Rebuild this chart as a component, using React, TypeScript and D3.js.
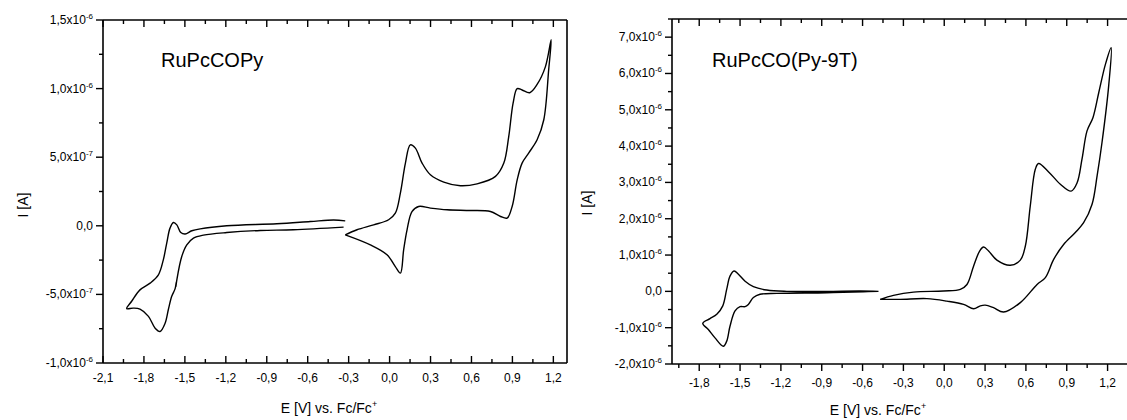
import React from 'react';
import * as d3 from 'd3';

// potentials in V vs Fc/Fc+, currents in A
const copyCathodicE = [-0.337, -0.704, -0.948, -1.193, -1.364, -1.437, -1.486, -1.523, -1.559, -1.566, -1.563, -1.572, -1.597, -1.621, -1.645, -1.682, -1.718, -1.767, -1.829, -1.878, -1.926,
  -1.89, -1.829, -1.755, -1.694, -1.658, -1.633, -1.609, -1.584, -1.559, -1.53, -1.498, -1.449, -1.388, -1.193, -0.826, -0.581, -0.41, -0.325];
const copyCathodicI = [-0.1, -0.29, -0.34, -0.49, -0.68, -0.9, -1.39, -2.24, -3.94, -4.45, -4.1, -4.6, -5.15, -6.1, -7.1, -7.7, -7.46, -6.6, -6.08, -6.0, -6.03,
  -5.5, -4.67, -4.18, -3.57, -2.48, -1.26, -0.17, 0.24, 0.07, -0.49, -0.6, -0.36, -0.22, 0.0, 0.15, 0.31, 0.42, 0.36];

const copyAnodicE = [-0.325, -0.239, -0.117, -0.007, 0.042, 0.079, 0.116, 0.152, 0.189, 0.238, 0.299, 0.397, 0.519, 0.641, 0.776, 0.837, 0.873, 0.905, 0.935, 0.971, 1.027, 1.081, 1.142, 1.184,
  1.166, 1.13, 1.081, 1.019, 0.971, 0.935, 0.898, 0.861, 0.813, 0.739, 0.593, 0.421, 0.299, 0.213, 0.164, 0.128, 0.103, 0.079, 0.042, -0.019, -0.141, -0.325];
const copyAnodicI = [-0.66, -0.29, 0.07, 0.44, 0.92, 2.38, 4.57, 5.9, 5.66, 4.57, 3.72, 3.19, 2.92, 3.06, 3.6, 4.57, 6.5, 8.94, 10.0, 9.9, 9.7, 10.3, 11.6, 13.56,
  11.4, 7.73, 6.27, 5.3, 4.57, 3.35, 1.41, 0.56, 0.68, 1.04, 1.12, 1.17, 1.29, 1.41, 1.04, -0.29, -1.75, -3.45, -2.97, -2.11, -1.39, -0.66];

const py9tCathodicE = [-0.483, -0.618, -0.863, -1.157, -1.304, -1.402, -1.463, -1.512, -1.544, -1.574, -1.598, -1.627, -1.671, -1.721, -1.774,
  -1.733, -1.684, -1.623, -1.598, -1.574, -1.537, -1.5, -1.463, -1.439, -1.402, -1.353, -1.23, -0.863, -0.593, -0.483];
const py9tCathodicI = [0.0, 0.01, 0.0, 0.0, 0.036, 0.13, 0.28, 0.47, 0.56, 0.42, 0.06, -0.4, -0.63, -0.75, -0.88,
  -1.05, -1.28, -1.51, -1.37, -0.96, -0.54, -0.42, -0.42, -0.36, -0.17, -0.08, -0.055, -0.036, -0.01, 0.0];

const py9tAnodicE = [-0.471, -0.373, -0.226, -0.005, 0.118, 0.167, 0.216, 0.26, 0.289, 0.326, 0.387, 0.485, 0.559, 0.596, 0.632, 0.669, 0.693, 0.767, 0.853, 0.932, 0.976, 1.012, 1.049, 1.093, 1.135, 1.184, 1.226,
  1.208, 1.159, 1.123, 1.086, 1.024, 0.963, 0.877, 0.804, 0.743, 0.682, 0.559, 0.436, 0.362, 0.301, 0.265, 0.216, 0.142, 0.02, -0.127, -0.324, -0.471];
const py9tAnodicI = [-0.22, -0.11, -0.02, 0.01, 0.055, 0.19, 0.7, 1.11, 1.22, 1.11, 0.86, 0.72, 0.86, 1.25, 2.35, 3.36, 3.52, 3.29, 2.95, 2.76, 2.99, 3.64, 4.42, 4.79, 5.47, 6.25, 6.71,
  5.66, 4.1, 3.18, 2.4, 1.89, 1.62, 1.29, 0.88, 0.38, 0.19, -0.31, -0.57, -0.45, -0.38, -0.4, -0.48, -0.36, -0.27, -0.2, -0.22, -0.22];

const copyTicksY = [-1e-6, -5e-7, 0, 5e-7, 1e-6, 1.5e-6];
const py9tTicksY = [-2e-6, -1e-6, 0, 1e-6, 2e-6, 3e-6, 4e-6, 5e-6, 6e-6, 7e-6];

const FONT = "Arial, 'Liberation Sans', sans-serif";
const loc = d3.formatLocale({ decimal: ',', thousands: '.', grouping: [3], currency: ['', ''], minus: '-' });
const f1 = loc.format('.1f');

const zip = (e: number[], i: number[], unit: number) => e.map((v, k) => [v, i[k] * unit] as [number, number]);

type PanelProps = {
  xDomain: [number, number];
  xRange: [number, number];
  yDomain: [number, number];
  yRange: [number, number];
  yTicks: number[];
  yStep: number;
  scans: [number, number][][];
  title: string;
  titleX: number;
  bottomOut: boolean;
  rightFrame: boolean;
  xLabelY: number;
  xTitleX: number;
  xTitleY: number;
  yTitleX: number;
  yTitleY: number;
};

function Panel(p: PanelProps) {
  const x = d3.scaleLinear().domain(p.xDomain).range(p.xRange);
  const y = d3.scaleLinear().domain(p.yDomain).range(p.yRange);
  const line = d3.line<[number, number]>().x(d => x(d[0])).y(d => y(d[1])).curve(d3.curveCatmullRom.alpha(0.5));
  const [x0, x1] = p.xRange;
  const [yb, yt] = p.yRange;

  const xMajor = d3.range(-7, 5).map(k => k * 0.3).filter(v => v >= p.xDomain[0] - 1e-9 && v <= p.xDomain[1] + 1e-9);
  const xMinor = d3.range(-14, 10).map(k => k * 0.15 + 0.15).filter((v, k) => Math.abs(Math.round(v / 0.15)) % 2 === 1 && v > p.xDomain[0] + 1e-9 && v < p.xDomain[1]);
  const yMinor = p.yTicks.slice(0, -1).map(v => v + p.yStep / 2).concat(
    p.yTicks[p.yTicks.length - 1] + p.yStep / 2 <= p.yDomain[1] ? [p.yTicks[p.yTicks.length - 1] + p.yStep / 2] : []);

  const bDir = p.bottomOut ? 1 : -1;

  return (
    <g>
      {p.scans.map((s, k) => (
        <path key={k} d={line(s) || ''} fill="none" stroke="#000" strokeWidth={1.4} strokeLinejoin="round" />
      ))}
      <line x1={x0} x2={x0} y1={yb} y2={yt} stroke="#000" strokeWidth={1.6} />
      <line x1={x0} x2={x1} y1={yb} y2={yb} stroke="#000" strokeWidth={1.6} />
      <line x1={x0} x2={x1} y1={yt} y2={yt} stroke="#000" strokeWidth={1.6} />
      {p.rightFrame && <line x1={x1} x2={x1} y1={yb} y2={yt} stroke="#000" strokeWidth={1.6} />}
      {xMajor.map(v => (
        <g key={'xm' + v}>
          <line x1={x(v)} x2={x(v)} y1={yb} y2={yb + bDir * 7} stroke="#000" strokeWidth={1.4} />
          <line x1={x(v)} x2={x(v)} y1={yt} y2={yt + 7} stroke="#000" strokeWidth={1.4} />
          <text x={x(v)} y={p.xLabelY} textAnchor="middle" fontSize={12} fontFamily={FONT}>{f1(v)}</text>
        </g>
      ))}
      {xMinor.map(v => (
        <g key={'xn' + v}>
          <line x1={x(v)} x2={x(v)} y1={yb} y2={yb + bDir * 4} stroke="#000" strokeWidth={1.4} />
          <line x1={x(v)} x2={x(v)} y1={yt} y2={yt + 4} stroke="#000" strokeWidth={1.4} />
        </g>
      ))}
      {p.yTicks.map(v => {
        const e = v === 0 ? 0 : Math.floor(Math.log10(Math.abs(v)) + 1e-9);
        return (
          <g key={'ym' + v}>
            <line x1={x0} x2={x0 - 7} y1={y(v)} y2={y(v)} stroke="#000" strokeWidth={1.4} />
            <text x={x0 - 10} y={y(v) + 4} textAnchor="end" fontSize={12} fontFamily={FONT}>
              {v === 0 ? '0,0' : (
                <>
                  {f1(v / Math.pow(10, e)) + 'x10'}
                  <tspan fontSize={8} dy={-5}>{String(e)}</tspan>
                </>
              )}
            </text>
          </g>
        );
      })}
      {yMinor.map(v => (
        <line key={'yn' + v} x1={x0} x2={x0 - 4} y1={y(v)} y2={y(v)} stroke="#000" strokeWidth={1.4} />
      ))}
      <text x={p.titleX} y={67} fontSize={20} fontFamily={FONT}>{p.title}</text>
      <text x={p.xTitleX} y={p.xTitleY} textAnchor="middle" fontSize={14} fontFamily={FONT}>
        E [V] vs. Fc/Fc<tspan fontSize={9} dy={-6}>+</tspan>
      </text>
      <text transform={`translate(${p.yTitleX},${p.yTitleY}) rotate(-90)`} textAnchor="middle" fontSize={14} fontFamily={FONT}>I [A]</text>
    </g>
  );
}

export default function App() {
  return (
    <svg width={1127} height={420} style={{ position: 'absolute', left: 0, top: 0, background: '#fff' }}>
      <rect width={1127} height={420} fill="#fff" />
      <Panel
        xDomain={[-2.1, 1.3]} xRange={[103, 567]}
        yDomain={[-1e-6, 1.5e-6]} yRange={[363, 20]}
        yTicks={copyTicksY} yStep={5e-7}
        scans={[zip(copyCathodicE, copyCathodicI, 1e-7), zip(copyAnodicE, copyAnodicI, 1e-7)]}
        title="RuPcCOPy" titleX={161}
        bottomOut={false} rightFrame={true}
        xLabelY={382} xTitleX={329} xTitleY={413}
        yTitleX={28} yTitleY={205}
      />
      <Panel
        xDomain={[-2.0, 1.35]} xRange={[672, 1128]}
        yDomain={[-2e-6, 7.5e-6]} yRange={[364, 19]}
        yTicks={py9tTicksY} yStep={1e-6}
        scans={[zip(py9tCathodicE, py9tCathodicI, 1e-6), zip(py9tAnodicE, py9tAnodicI, 1e-6)]}
        title="RuPcCO(Py-9T)" titleX={712}
        bottomOut={true} rightFrame={false}
        xLabelY={387} xTitleX={878} xTitleY={415}
        yTitleX={592} yTitleY={203}
      />
    </svg>
  );
}
